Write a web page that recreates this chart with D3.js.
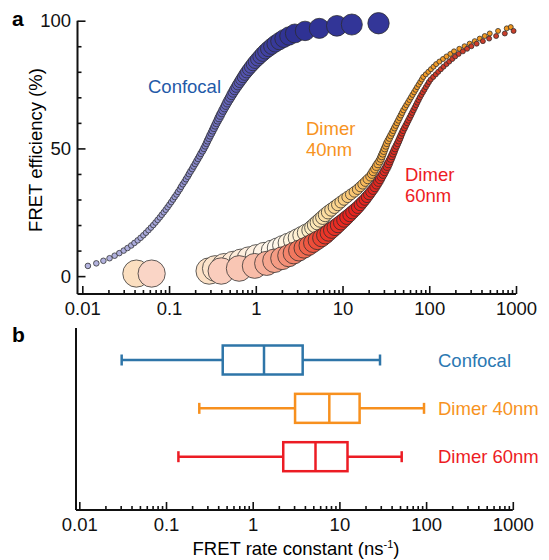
<!DOCTYPE html>
<html>
<head>
<meta charset="utf-8">
<script src="https://cdn.jsdelivr.net/npm/d3@7"></script>
<style>
  body { margin: 0; background: #fff; }
  svg { display: block; }
</style>
</head>
<body>
<script>
'use strict';

//panel a: FRET efficiency (%) of each point against its FRET rate constant (ns-1)
var confocalE = [4, 5, 6, 7, 8, 9, 10, 11, 12, 13, 14, 15, 16, 17, 18, 19, 20, 21, 22, 23, 24, 25,
    26, 27, 28, 29, 30, 31, 32, 33, 34, 35, 36, 37, 38, 39, 40, 41, 42, 43, 44, 45, 46, 47, 48, 49,
    50, 51, 52, 53, 54, 55, 56, 57, 58, 59, 60, 61, 62, 63, 64, 65, 66, 67, 68, 69, 70, 71, 72, 73,
    74, 75, 76, 77, 78, 79, 80, 81, 82, 83, 84, 85, 86, 87, 88, 89, 90, 91, 92, 93, 94, 95, 96, 97,
    98, 98.5, 99];
var confocalK = [0.0116, 0.0145, 0.0175, 0.0206, 0.0236, 0.0267, 0.0300, 0.0332, 0.0366, 0.0399,
    0.0435, 0.0470, 0.0506, 0.0542, 0.0579, 0.0618, 0.0658, 0.0698, 0.0739, 0.0782, 0.0824, 0.0869,
    0.0916, 0.0962, 0.101, 0.106, 0.111, 0.116, 0.122, 0.127, 0.133, 0.138, 0.144, 0.151, 0.157,
    0.164, 0.170, 0.177, 0.185, 0.192, 0.200, 0.208, 0.216, 0.225, 0.233, 0.243, 0.252, 0.261,
    0.270, 0.278, 0.288, 0.297, 0.308, 0.318, 0.329, 0.340, 0.352, 0.364, 0.377, 0.390, 0.405,
    0.419, 0.435, 0.451, 0.468, 0.486, 0.506, 0.526, 0.547, 0.570, 0.595, 0.621, 0.650, 0.680,
    0.713, 0.747, 0.786, 0.829, 0.876, 0.927, 0.983, 1.05, 1.12, 1.20, 1.29, 1.40, 1.53, 1.68,
    1.87, 2.10, 2.41, 2.82, 3.7, 5.4, 8.6, 12.8, 26];

var dimer40E = [1, 2, 3, 4, 5, 6, 7, 8, 9, 10, 11, 12, 13, 14, 15, 16, 17, 18, 19, 20, 21, 22, 23,
    24, 25, 26, 27, 28, 29, 30, 31, 32, 33, 34, 35, 36, 37, 38, 39, 40, 41, 42, 43, 44, 45, 46, 47,
    48, 49, 50, 51, 52, 53, 54, 55, 56, 57, 58, 59, 60, 61, 62, 63, 64, 65, 66, 67, 68, 69, 70, 71,
    72, 73, 74, 75, 76, 77, 78, 79, 80, 81, 82, 83, 84, 85, 86, 87, 88, 89, 90, 91, 92, 93, 94, 95,
    96, 97, 97.5];
var dimer40K = [0.042, 0.29, 0.341, 0.434, 0.550, 0.674, 0.828, 1.015, 1.245, 1.528, 1.775, 2.03,
    2.33, 2.67, 3.00, 3.37, 3.77, 4.22, 4.52, 4.83, 5.16, 5.52, 5.91, 6.31, 6.81, 7.41, 8.07, 8.79,
    9.56, 10.4, 11.4, 12.5, 13.7, 14.9, 16.0, 17.1, 18.3, 19.5, 20.9, 21.8, 22.6, 23.6, 24.6, 25.6,
    26.7, 27.6, 28.3, 29.1, 29.9, 30.7, 31.6, 32.4, 33.5, 34.7, 35.9, 37.2, 38.4, 39.7, 41.1, 42.5,
    44.0, 45.5, 47.1, 48.7, 50.4, 52.5, 54.6, 56.9, 59.2, 61.6, 64.1, 66.8, 69.6, 72.4, 75.5, 78.7,
    82.0, 85.3, 91.2, 97.7, 104.5, 112, 120, 131, 144, 158, 175, 193, 222, 255, 292, 334, 382, 436,
    498, 621, 782, 870];

var dimer60E = [1, 2, 3, 4, 5, 6, 7, 8, 9, 10, 11, 12, 13, 14, 15, 16, 17, 18, 19, 20, 21, 22, 23,
    24, 25, 26, 27, 28, 29, 30, 31, 32, 33, 34, 35, 36, 37, 38, 39, 40, 41, 42, 43, 44, 45, 46, 47,
    48, 49, 50, 51, 52, 53, 54, 55, 56, 57, 58, 59, 60, 61, 62, 63, 64, 65, 66, 67, 68, 69, 70, 71,
    72, 73, 74, 75, 76, 77, 78, 79, 80, 81, 82, 83, 84, 85, 86, 87, 88, 89, 90, 91, 92, 93, 94, 95,
    96];
var dimer60K = [0.063, 0.40, 0.643, 0.973, 1.336, 1.64, 2.01, 2.40, 2.75, 3.15, 3.61, 4.09, 4.58,
    5.13, 5.74, 6.33, 6.89, 7.51, 8.18, 8.87, 9.60, 10.4, 11.2, 12.1, 13.0, 14.0, 15.0, 16.0, 17.0,
    18.1, 19.1, 20.2, 21.3, 22.5, 23.6, 24.7, 25.9, 27.0, 28.1, 29.3, 30.4, 31.6, 32.7, 33.8, 34.9,
    36.0, 37.1, 38.2, 39.3, 40.4, 41.8, 43.1, 44.5, 45.8, 47.1, 48.5, 50.0, 51.8, 53.6, 55.5, 57.4,
    59.4, 61.5, 63.6, 65.8, 68.1, 70.5, 72.8, 75.3, 78.0, 81.1, 84.3, 87.9, 91.4, 95.3, 99.1, 104,
    111, 119, 127, 136, 146, 158, 170, 184, 199, 218, 244, 273, 306, 352, 415, 490, 590, 743, 938];

//panel b: spread of the rate constants per sample
var boxGroups = ['Confocal', 'Dimer 40nm', 'Dimer 60nm'];
var boxMin = [0.0308, 0.242, 0.139];
var boxQ1 = [0.451, 3.08, 2.25];
var boxMedian = [1.35, 7.65, 5.30];
var boxQ3 = [3.77, 17.1, 12.4];
var boxMax = [29.4, 94.6, 52.3];

//tick labels
var xTickLabels = ['0.01', '0.1', '1', '10', '100', '1000'];
var yTickValues = [0, 50, 100];
var yTickLabels = ['0', '50', '100'];

var font = "'Liberation Sans', Arial, Helvetica, sans-serif";
var fontSize = '18.5px';

var svg = d3.select('body').append('svg')
    .attr('width', 549)
    .attr('height', 560)
    .style('font-family', font);

//scales
var xA = d3.scaleLog().domain([0.0088, 1000]).range([77.5, 516]);
var yA = d3.scaleLinear().domain([-7, 100]).range([294, 20.7]);
var xB = d3.scaleLog().domain([0.0088, 1000]).range([74.5, 512.8]);
var yB = d3.scalePoint().domain(boxGroups).range([360, 456.7]);

var rConfocal = d3.scalePow().exponent(4).domain([0, 100]).range([2.8, 11]);
var rDimer = d3.scalePow().exponent(3.5).domain([0, 100]).range([2.5, 14]);

var colorConfocal = d3.scaleLinear()
    .domain([0, 30, 60, 85, 95, 100])
    .range(['#b7b7e0', '#9d9dd6', '#7474c2', '#4c4cab', '#2e3192', '#34379a']);
var colorDimer40 = d3.scaleLinear()
    .domain([0, 5, 11, 18, 28, 40, 65, 100])
    .range(['#fbdcbb', '#fde9d6', '#fff8ee', '#fdeec8', '#fbd590', '#f7b04a', '#f4a030', '#f0961f']);
var colorDimer60 = d3.scaleLinear()
    .domain([0, 3, 7, 11, 16, 24, 60, 100])
    .range(['#fbdccf', '#f9c6b4', '#f59c84', '#f06c52', '#ea3a2a', '#e8231f', '#dc3325', '#c8402c']);

function isDecade(v) {
    var l = Math.log10(v);
    return Math.abs(l - Math.round(l)) < 1e-9;
}

function styleAxis(g) {
    g.attr('font-size', null).attr('font-family', null);
    g.select('.domain').remove();
    g.selectAll('line').attr('stroke', '#111').attr('stroke-width', 1.6);
    g.selectAll('text').style('font-size', fontSize).attr('fill', '#111');
}

//log axis with inward ticks, decades long, the rest short
function drawLogAxis(g, scale, y, x0) {
    var ticks = scale.ticks().filter(function (v) { return v >= 0.00999; });
    var majors = ticks.filter(isDecade);
    var minors = ticks.filter(function (v) { return !isDecade(v); });

    g.append('g')
        .attr('transform', 'translate(0,' + y + ')')
        .call(d3.axisBottom(scale).tickValues(minors).tickSize(-4).tickFormat(''))
        .call(styleAxis);
    g.append('g')
        .attr('transform', 'translate(0,' + y + ')')
        .call(d3.axisBottom(scale).tickValues(majors).tickSize(-8).tickPadding(8)
            .tickFormat(function (d, i) { return xTickLabels[i]; }))
        .call(styleAxis);

    g.append('line')
        .attr('x1', x0).attr('x2', scale.range()[1])
        .attr('y1', y).attr('y2', y)
        .attr('stroke', '#111').attr('stroke-width', 2);
}

function drawSeries(g, ks, es, rFn, colorFn) {
    var pts = ks.map(function (k, i) { return { k: k, e: es[i] }; });
    g.append('g').selectAll('circle')
        .data(pts)
        .enter().append('circle')
        .attr('cx', function (d) { return xA(d.k); })
        .attr('cy', function (d) { return yA(d.e); })
        .attr('r', function (d) { return rFn(d.e); })
        .attr('fill', function (d) { return colorFn(d.e); })
        .attr('stroke', '#2b2b2b')
        .attr('stroke-width', 0.75);
}

function drawLabel(g, lines, x, y, color) {
    var t = g.append('text')
        .attr('x', x).attr('y', y)
        .style('font-size', fontSize)
        .attr('fill', color);
    lines.forEach(function (s, i) {
        t.append('tspan').attr('x', x).attr('dy', i ? 21 : 0).text(s);
    });
}

//---- panel a
var gA = svg.append('g');

gA.append('text').text('a')
    .attr('x', 12).attr('y', 26)
    .style('font-size', '21px').style('font-weight', 'bold');

drawSeries(gA, dimer40K, dimer40E, function (e) { return rDimer(100 - e); }, colorDimer40);
drawSeries(gA, dimer60K, dimer60E, function (e) { return rDimer(100 - e); }, colorDimer60);
drawSeries(gA, confocalK, confocalE, rConfocal, colorConfocal);

//y axis, ticks point inward
gA.append('g')
    .attr('transform', 'translate(77.5,0)')
    .call(d3.axisLeft(yA).tickValues([10, 20, 30, 40, 60, 70, 80, 90]).tickSize(-4).tickFormat(''))
    .call(styleAxis);
gA.append('g')
    .attr('transform', 'translate(77.5,0)')
    .call(d3.axisLeft(yA).tickValues(yTickValues).tickSize(-8).tickPadding(6.5)
        .tickFormat(function (d, i) { return yTickLabels[i]; }))
    .call(styleAxis);
gA.append('line')
    .attr('x1', 77.5).attr('x2', 77.5)
    .attr('y1', yA(100)).attr('y2', yA.range()[0])
    .attr('stroke', '#111').attr('stroke-width', 2);

drawLogAxis(gA, xA, 294, 77.5);

gA.append('text')
    .text('FRET efficiency (%)')
    .attr('transform', 'translate(42,150) rotate(-90)')
    .attr('text-anchor', 'middle')
    .style('font-size', fontSize);

drawLabel(gA, ['Confocal'], 148, 93, '#1f5aa8');
drawLabel(gA, ['Dimer', '40nm'], 306, 135, '#f7931e');
drawLabel(gA, ['Dimer', '60nm'], 405, 181, '#ed1c24');

//---- panel b
var gB = svg.append('g');
var boxColors = ['#2e75a8', '#f7901e', '#ec1c24'];
var labelColors = ['#2b78b2', '#f7931e', '#ed1c24'];
var boxH = 29;
var capH = 11;

gB.append('text').text('b')
    .attr('x', 12).attr('y', 342)
    .style('font-size', '21px').style('font-weight', 'bold');

gB.append('line')
    .attr('x1', 76).attr('x2', 76)
    .attr('y1', 328).attr('y2', 510)
    .attr('stroke', '#111').attr('stroke-width', 2);
drawLogAxis(gB, xB, 510, 76);

boxGroups.forEach(function (name, i) {
    var cy = yB(name);
    var c = boxColors[i];
    var box = gB.append('g')
        .attr('stroke', c)
        .attr('stroke-width', 2.5)
        .attr('fill', 'none');

    //whiskers and caps
    box.append('line')
        .attr('x1', xB(boxMin[i])).attr('x2', xB(boxQ1[i]))
        .attr('y1', cy).attr('y2', cy);
    box.append('line')
        .attr('x1', xB(boxQ3[i])).attr('x2', xB(boxMax[i]))
        .attr('y1', cy).attr('y2', cy);
    [boxMin[i], boxMax[i]].forEach(function (v) {
        box.append('line')
            .attr('x1', xB(v)).attr('x2', xB(v))
            .attr('y1', cy - capH / 2).attr('y2', cy + capH / 2);
    });

    box.append('rect')
        .attr('x', xB(boxQ1[i]))
        .attr('y', cy - boxH / 2)
        .attr('width', xB(boxQ3[i]) - xB(boxQ1[i]))
        .attr('height', boxH);
    box.append('line')
        .attr('x1', xB(boxMedian[i])).attr('x2', xB(boxMedian[i]))
        .attr('y1', cy - boxH / 2).attr('y2', cy + boxH / 2);

    drawLabel(gB, [name], 438, cy + 6.5, labelColors[i]);
});

var title = gB.append('text')
    .attr('x', 296).attr('y', 555)
    .attr('text-anchor', 'middle')
    .style('font-size', fontSize);
title.append('tspan').text('FRET rate constant (ns');
title.append('tspan').attr('dy', -7).style('font-size', '11px').text('-1');
title.append('tspan').attr('dy', 7).text(')');
</script>
</body>
</html>
